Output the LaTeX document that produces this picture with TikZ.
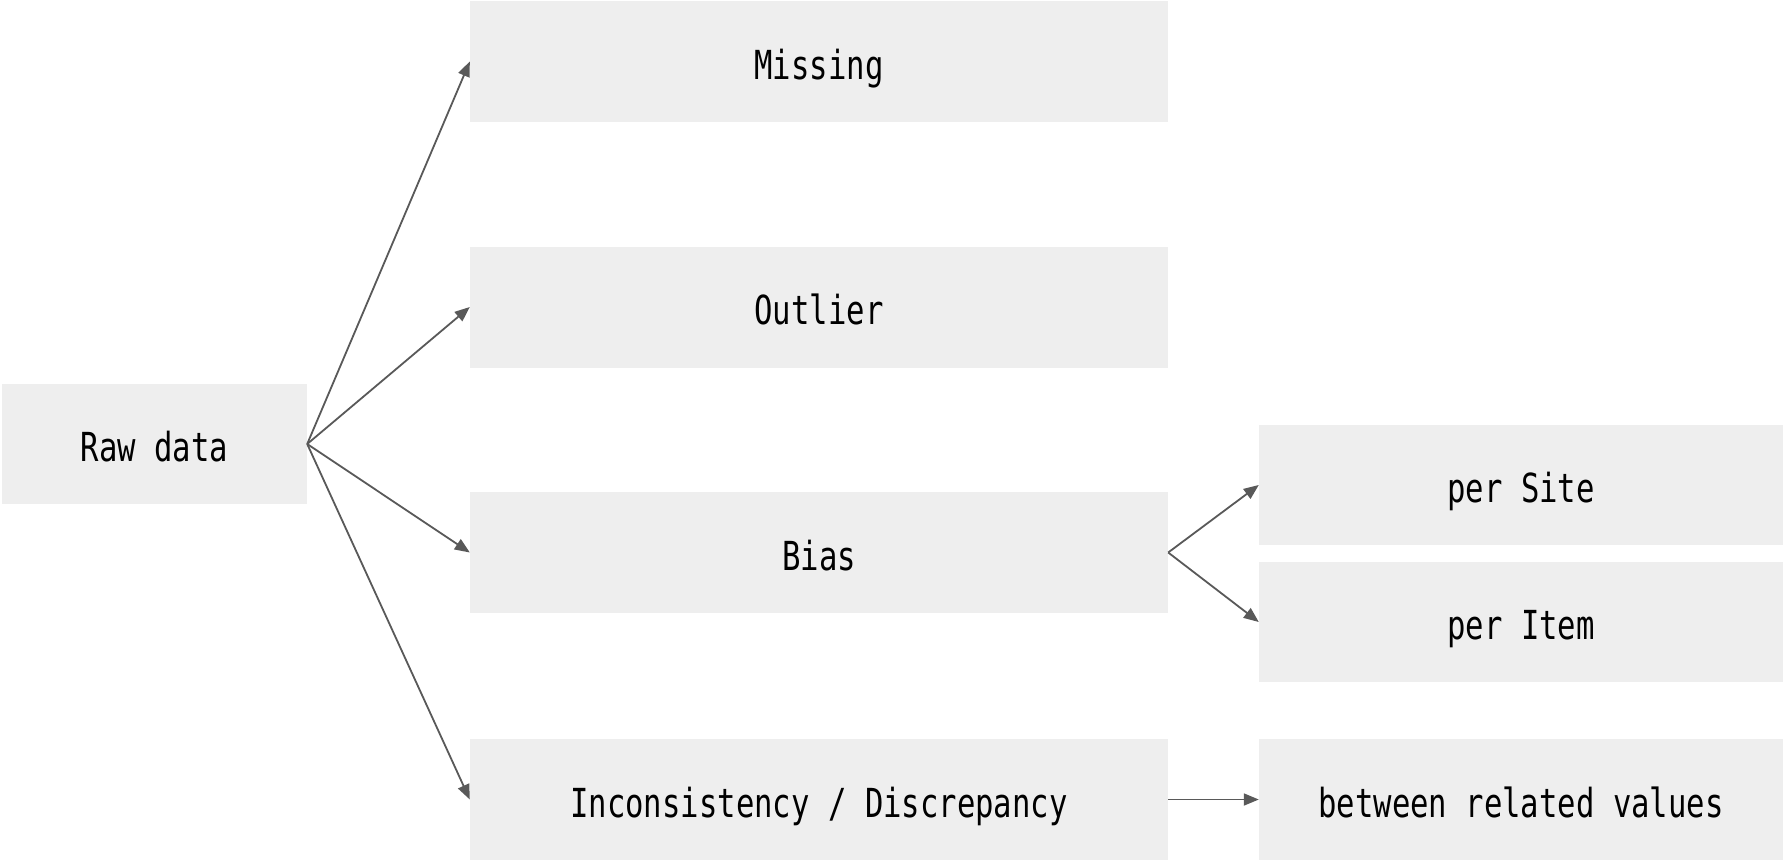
\documentclass[tikz,border=0pt]{standalone}
\usepackage{fontspec}
\setmainfont[FakeStretch=0.765]{DejaVu Sans Mono}
\usetikzlibrary{arrows.meta}
\definecolor{boxfill}{HTML}{EEEEEE}
\definecolor{linkgray}{HTML}{595959}
\begin{document}
\begin{tikzpicture}[x=1pt,y=-1pt,
  box/.style={rectangle, fill=boxfill, inner sep=0pt, text height=37pt, text depth=2pt,
    font=\fontsize{40}{42}\selectfont, text=black},
  link/.style={draw=linkgray, line width=1.8pt, -{Triangle[length=15pt,width=12pt]}}]
  \useasboundingbox (0,0) rectangle (1783,860);
  % left source box
  \node[box, minimum width=305pt, minimum height=120pt] (raw) at (154.5,444) {Raw data};
  % middle column
  \node[box, minimum width=698pt, minimum height=121pt] (miss) at (819,61.5) {Missing};
  \node[box, minimum width=698pt, minimum height=121pt] (outl) at (819,307) {Outlier};
  \node[box, minimum width=698pt, minimum height=121pt] (bias) at (819,552.5) {Bias};
  \node[box, minimum width=698pt, minimum height=121pt] (inco) at (819,799.5) {Inconsistency / Discrepancy};
  % right column
  \node[box, minimum width=524pt, minimum height=120pt] (site) at (1521,485) {per Site};
  \node[box, minimum width=524pt, minimum height=120pt] (item) at (1521,622) {per Item};
  \node[box, minimum width=524pt, minimum height=121pt] (betw) at (1521,799.5) {between related values};
  % connectors
  \draw[link] (raw.east) -- (miss.west);
  \draw[link] (raw.east) -- (outl.west);
  \draw[link] (raw.east) -- (bias.west);
  \draw[link] (raw.east) -- (inco.west);
  \draw[link] (bias.east) -- (site.west);
  \draw[link] (bias.east) -- (item.west);
  \draw[link] (inco.east) -- (betw.west);
\end{tikzpicture}
\end{document}
